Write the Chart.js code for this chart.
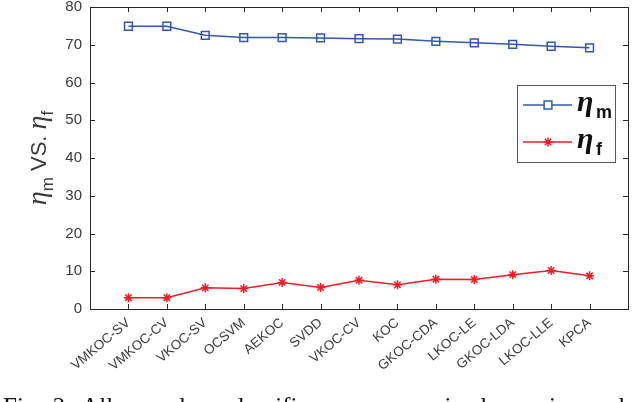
<!DOCTYPE html>
<html>
<head>
<meta charset="utf-8">
<script src="https://cdn.jsdelivr.net/npm/chart.js@4.4.1/dist/chart.umd.min.js"></script>
<style>
html,body{margin:0;padding:0;background:#fff;overflow:hidden;width:640px;height:402px;}
#wrap{position:absolute;left:0;top:0;width:640px;height:402px;}
#cap{position:absolute;left:3px;top:394px;font-family:"Liberation Serif","Times New Roman",serif;font-size:25px;line-height:25px;white-space:nowrap;color:#111;word-spacing:4px;}
#cap i{font-style:italic;}
</style>
</head>
<body>
<div id="wrap"><canvas id="c" width="640" height="402"></canvas></div>
<div id="cap">Fig. 2: All one-class classifiers as per <i>η</i><sub style="font-size:15px">m</sub> in decreasing order.</div>
<script>
const categories = ['VMKOC-SV','VMKOC-CV','VKOC-SV','OCSVM','AEKOC','SVDD','VKOC-CV','KOC','GKOC-CDA','LKOC-LE','GKOC-LDA','LKOC-LLE','KPCA'];
const etaM = [74.9,74.9,72.5,71.9,71.9,71.8,71.6,71.5,70.9,70.5,70.1,69.6,69.2];
const etaF = [3.0,3.0,5.6,5.4,7.05,5.7,7.6,6.4,7.9,7.8,9.1,10.2,8.8];
const yTicks = [0,10,20,30,40,50,60,70,80];

const BLUE = '#3556b0';
const RED = '#f01c24';
const AX = '#262626';
const TXT = '#3a3a3a';

const toPts = arr => arr.map((v,i)=>({x:i+1,y:v}));

const boxPlugin = {
  id:'box',
  afterDraw(chart){
    const {ctx, chartArea:a, scales} = chart;
    ctx.save();
    ctx.strokeStyle = AX; ctx.lineWidth = 1;
    ctx.strokeRect(a.left+0.5, a.top+0.5, a.right-a.left, a.bottom-a.top);
    const tl = 5;
    ctx.beginPath();
    scales.x.ticks.forEach(t=>{
      const px = Math.round(scales.x.getPixelForValue(t.value))+0.5;
      ctx.moveTo(px,a.bottom); ctx.lineTo(px,a.bottom-tl);
      ctx.moveTo(px,a.top); ctx.lineTo(px,a.top+tl);
    });
    scales.y.ticks.forEach(t=>{
      const py = Math.round(scales.y.getPixelForValue(t.value))+0.5;
      ctx.moveTo(a.left,py); ctx.lineTo(a.left+tl,py);
      ctx.moveTo(a.right,py); ctx.lineTo(a.right-tl,py);
    });
    ctx.stroke();

    // y-axis label
    const cy = (a.top+a.bottom)/2;
    ctx.translate(46, cy);
    ctx.rotate(-Math.PI/2);
    ctx.fillStyle = TXT;
    ctx.textBaseline = 'alphabetic';
    const parts = [
      {t:'η', f:'italic 28px "Liberation Serif", serif', dy:0},
      {t:'m', f:'17px "Liberation Sans", Arial, sans-serif', dy:7},
      {t:' VS. ', f:'22px "Liberation Sans", Arial, sans-serif', dy:0},
      {t:'η', f:'italic 28px "Liberation Serif", serif', dy:0},
      {t:'f', f:'17px "Liberation Sans", Arial, sans-serif', dy:7}
    ];
    let w = 0;
    parts.forEach(p=>{ctx.font=p.f; p.w=ctx.measureText(p.t).width; w+=p.w;});
    let x = -w/2;
    parts.forEach(p=>{ctx.font=p.f; ctx.fillText(p.t, x, p.dy); x+=p.w;});
    ctx.restore();

    // legend
    ctx.save();
    const lx=517, ly=85, lw=98, lh=77;
    ctx.fillStyle='#fff';
    ctx.fillRect(lx,ly,lw,lh);
    ctx.strokeStyle='#5a5a5a'; ctx.lineWidth=1;
    ctx.strokeRect(lx+0.5,ly+0.5,lw,lh);
    const items=[{c:BLUE,s:'rect',r:5.5,sub:'m',y:105},{c:RED,s:'star',r:4.5,sub:'f',y:142}];
    items.forEach(it=>{
      ctx.strokeStyle=it.c; ctx.lineWidth=1.5;
      ctx.beginPath(); ctx.moveTo(523,it.y); ctx.lineTo(572,it.y); ctx.stroke();
      Chart.helpers.drawPoint(ctx,{pointStyle:it.s,radius:it.r,borderWidth:1.5},548,it.y);
      ctx.fillStyle='#111';
      ctx.font='bold italic 30px "Liberation Serif", serif';
      ctx.fillText('η',577,it.y+6);
      ctx.font='bold 18px "Liberation Sans", Arial, sans-serif';
      ctx.fillText(it.sub,596,it.y+13);
    });
    ctx.restore();
  }
};

new Chart(document.getElementById('c'), {
  type:'line',
  data:{
    datasets:[
      {label:'ηm', data:toPts(etaM), borderColor:BLUE, backgroundColor:'rgba(0,0,0,0)', pointBorderColor:BLUE, pointBackgroundColor:'rgba(0,0,0,0)', pointStyle:'rect', pointRadius:5.5, pointBorderWidth:1.5, borderWidth:1.5, tension:0},
      {label:'ηf', data:toPts(etaF), borderColor:RED, backgroundColor:'rgba(0,0,0,0)', pointBorderColor:RED, pointBackgroundColor:RED, pointStyle:'star', pointRadius:4.5, pointBorderWidth:1.5, borderWidth:1.5, tension:0}
    ]
  },
  options:{
    responsive:false, animation:false, events:[],
    layout:{padding:{top:2,right:12,left:0,bottom:0}},
    plugins:{legend:{display:false}, tooltip:{enabled:false}},
    scales:{
      x:{type:'linear', min:0, max:14, position:'bottom',
        afterBuildTicks: s => { s.ticks = categories.map((_,i)=>({value:i+1})); },
        afterFit: s => { s.height = 93; s.paddingLeft = 0; s.paddingRight = 0; },
        ticks:{autoSkip:false, minRotation:40, maxRotation:40, padding:6, labelOffset:0,
          color:TXT, font:{family:'"Liberation Sans", Arial, sans-serif', size:13.5},
          callback: v => categories[v-1] || ''},
        grid:{display:false, drawTicks:false}, border:{display:true,color:AX}
      },
      y:{min:0, max:80,
        afterBuildTicks: s => { s.ticks = yTicks.map(v=>({value:v})); },
        afterFit: s => { s.width = 90; s.paddingTop = 0; s.paddingBottom = 0; },
        ticks:{padding:8, color:TXT, font:{family:'"Liberation Sans", Arial, sans-serif', size:15}},
        grid:{display:false, drawTicks:false}, border:{display:true,color:AX}
      }
    }
  },
  plugins:[boxPlugin]
});
</script>
</body>
</html>
